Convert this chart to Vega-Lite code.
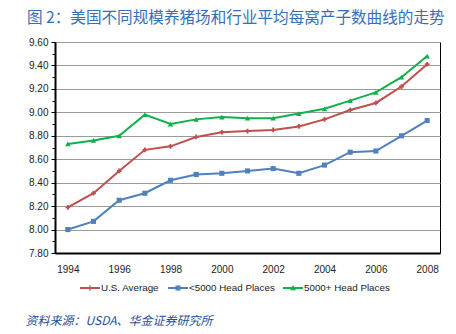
{
  "$schema": "https://vega.github.io/schema/vega-lite/v6.json",
  "width": 385,
  "height": 211,
  "autosize": "none",
  "padding": {"left": 55, "top": 42, "right": 16, "bottom": 81},
  "background": "white",
  "title": {
    "text": "图 2：美国不同规模养猪场和行业平均每窝产子数曲线的走势",
    "anchor": "start",
    "frame": "group",
    "orient": "top",
    "baseline": "alphabetic",
    "offset": 19,
    "dx": -28,
    "dy": 21,
    "font": "Noto Sans CJK SC",
    "fontSize": 15.6,
    "fontWeight": "normal",
    "color": "#3470B8"
  },
  "config": {
    "view": {"stroke": "#000", "strokeWidth": 1},
    "font": "Liberation Sans"
  },
  "data": {
    "values": [
      {"year": 1994, "s": "U.S. Average", "v": 8.19},
      {"year": 1995, "s": "U.S. Average", "v": 8.31},
      {"year": 1996, "s": "U.S. Average", "v": 8.50},
      {"year": 1997, "s": "U.S. Average", "v": 8.68},
      {"year": 1998, "s": "U.S. Average", "v": 8.71},
      {"year": 1999, "s": "U.S. Average", "v": 8.79},
      {"year": 2000, "s": "U.S. Average", "v": 8.83},
      {"year": 2001, "s": "U.S. Average", "v": 8.84},
      {"year": 2002, "s": "U.S. Average", "v": 8.85},
      {"year": 2003, "s": "U.S. Average", "v": 8.88},
      {"year": 2004, "s": "U.S. Average", "v": 8.94},
      {"year": 2005, "s": "U.S. Average", "v": 9.02},
      {"year": 2006, "s": "U.S. Average", "v": 9.08},
      {"year": 2007, "s": "U.S. Average", "v": 9.22},
      {"year": 2008, "s": "U.S. Average", "v": 9.41},
      {"year": 1994, "s": "<5000 Head Places", "v": 8.00},
      {"year": 1995, "s": "<5000 Head Places", "v": 8.07},
      {"year": 1996, "s": "<5000 Head Places", "v": 8.25},
      {"year": 1997, "s": "<5000 Head Places", "v": 8.31},
      {"year": 1998, "s": "<5000 Head Places", "v": 8.42},
      {"year": 1999, "s": "<5000 Head Places", "v": 8.47},
      {"year": 2000, "s": "<5000 Head Places", "v": 8.48},
      {"year": 2001, "s": "<5000 Head Places", "v": 8.50},
      {"year": 2002, "s": "<5000 Head Places", "v": 8.52},
      {"year": 2003, "s": "<5000 Head Places", "v": 8.48},
      {"year": 2004, "s": "<5000 Head Places", "v": 8.55},
      {"year": 2005, "s": "<5000 Head Places", "v": 8.66},
      {"year": 2006, "s": "<5000 Head Places", "v": 8.67},
      {"year": 2007, "s": "<5000 Head Places", "v": 8.80},
      {"year": 2008, "s": "<5000 Head Places", "v": 8.93},
      {"year": 1994, "s": "5000+ Head Places", "v": 8.73},
      {"year": 1995, "s": "5000+ Head Places", "v": 8.76},
      {"year": 1996, "s": "5000+ Head Places", "v": 8.80},
      {"year": 1997, "s": "5000+ Head Places", "v": 8.98},
      {"year": 1998, "s": "5000+ Head Places", "v": 8.90},
      {"year": 1999, "s": "5000+ Head Places", "v": 8.94},
      {"year": 2000, "s": "5000+ Head Places", "v": 8.96},
      {"year": 2001, "s": "5000+ Head Places", "v": 8.95},
      {"year": 2002, "s": "5000+ Head Places", "v": 8.95},
      {"year": 2003, "s": "5000+ Head Places", "v": 8.99},
      {"year": 2004, "s": "5000+ Head Places", "v": 9.03},
      {"year": 2005, "s": "5000+ Head Places", "v": 9.10},
      {"year": 2006, "s": "5000+ Head Places", "v": 9.17},
      {"year": 2007, "s": "5000+ Head Places", "v": 9.30},
      {"year": 2008, "s": "5000+ Head Places", "v": 9.48}
    ]
  },
  "encoding": {
    "x": {
      "field": "year",
      "type": "quantitative",
      "scale": {"domain": [1993.5, 2008.5], "nice": false, "zero": false},
      "axis": {
        "values": [1994, 1996, 1998, 2000, 2002, 2004, 2006, 2008],
        "format": "d",
        "ticks": false,
        "grid": false,
        "domainColor": "#000",
        "domainWidth": 2,
        "labelPadding": 11,
        "labelFontSize": 10,
        "labelColor": "#222",
        "title": "资料来源：USDA、华金证券研究所",
        "titleX": -30,
        "titleY": 71,
        "titleAlign": "left",
        "titleAnchor": "start",
        "titleBaseline": "alphabetic",
        "titleFont": "Noto Sans CJK SC",
        "titleFontSize": 12,
        "titleFontStyle": "italic",
        "titleFontWeight": "normal",
        "titleColor": "#1F4E9A"
      }
    },
    "y": {
      "field": "v",
      "type": "quantitative",
      "scale": {"domain": [7.8, 9.6], "nice": false, "zero": false},
      "axis": {
        "values": [7.8, 7.9, 8.0, 8.1, 8.2, 8.3, 8.4, 8.5, 8.6, 8.7, 8.8, 8.9, 9.0, 9.1, 9.2, 9.3, 9.4, 9.5, 9.6],
        "labelExpr": "round(datum.value*10) % 2 === 0 ? format(datum.value, '.2f') : ''",
        "title": null,
        "grid": true,
        "gridColor": "#9A9A9A",
        "gridWidth": 1,
        "gridOpacity": {"condition": {"test": "round(datum.value*10) % 2 === 0", "value": 1}, "value": 0},
        "tickSize": {"condition": {"test": "round(datum.value*10) % 2 === 0", "value": 4}, "value": 3},
        "tickColor": "#000",
        "domainColor": "#000",
        "domainWidth": 2,
        "labelPadding": 3,
        "labelFontSize": 10,
        "labelColor": "#222"
      }
    },
    "color": {
      "field": "s",
      "type": "nominal",
      "scale": {
        "domain": ["U.S. Average", "<5000 Head Places", "5000+ Head Places"],
        "range": ["#C0504D", "#4F81BD", "#10B04A"]
      },
      "legend": {
        "title": null,
        "orient": "none",
        "direction": "horizontal",
        "legendX": 25,
        "legendY": 236,
        "symbolSize": 400,
        "symbolOpacity": 1,
        "symbolStrokeWidth": 0,
        "columnPadding": 8,
        "labelOffset": 1,
        "labelFontSize": 9.8,
        "labelColor": "#222"
      }
    }
  },
  "layer": [
    {"mark": {"type": "line", "strokeWidth": 2}},
    {
      "mark": {"type": "point", "filled": true, "opacity": 0},
      "encoding": {
        "shape": {
          "field": "s",
          "type": "nominal",
          "scale": {
            "domain": ["U.S. Average", "<5000 Head Places", "5000+ Head Places"],
            "range": [
              "M-1,-0.1H1V0.1H-1Z M-0.06,-0.28H0.06V0.28H-0.06Z",
              "M-1,-0.1H1V0.1H-1Z M-0.25,-0.25H0.25V0.25H-0.25Z",
              "M-1,-0.1H1V0.1H-1Z M0,-0.3L0.3,0.22H-0.3Z"
            ]
          },
          "legend": {
            "title": null,
            "orient": "none",
            "direction": "horizontal",
            "legendX": 25,
            "legendY": 236,
            "symbolSize": 400,
            "symbolOpacity": 1,
            "symbolStrokeWidth": 0,
            "columnPadding": 8,
            "labelOffset": 1,
            "labelFontSize": 9.8,
            "labelColor": "#222"
          }
        },
        "size": {"value": 400}
      }
    },
    {
      "transform": [{"filter": "datum.s === 'U.S. Average'"}],
      "mark": {"type": "point", "filled": true, "opacity": 1, "shape": "cross", "size": 22}
    },
    {
      "transform": [{"filter": "datum.s === '<5000 Head Places'"}],
      "mark": {"type": "point", "filled": true, "opacity": 1, "shape": "square", "size": 26}
    },
    {
      "transform": [{"filter": "datum.s === '5000+ Head Places'"}],
      "mark": {"type": "point", "filled": true, "opacity": 1, "shape": "triangle-up", "size": 30}
    }
  ]
}
